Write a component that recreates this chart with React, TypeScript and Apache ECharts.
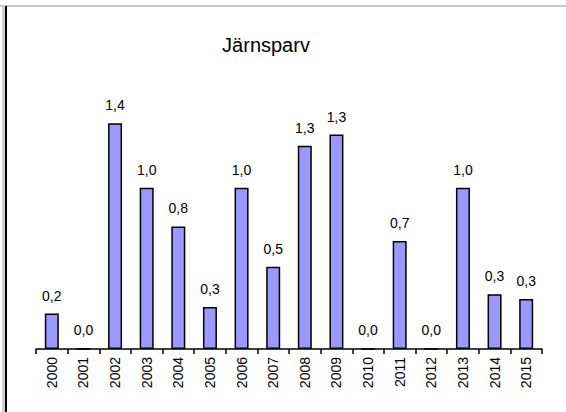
import React, { useEffect, useRef } from "react";
import * as echarts from "echarts";

const title = "Järnsparv";
const categories = ["2000", "2001", "2002", "2003", "2004", "2005", "2006", "2007", "2008", "2009", "2010", "2011", "2012", "2013", "2014", "2015"];
const values = [0.22, 0, 1.4, 1.0, 0.76, 0.26, 1.0, 0.51, 1.26, 1.33, 0, 0.67, 0, 1.0, 0.34, 0.31];

export default function App() {
  const ref = useRef<HTMLDivElement>(null);
  useEffect(() => {
    if (!ref.current) return;
    const chart = echarts.init(ref.current, null, { renderer: "svg" });
    const font = "Liberation Sans, Arial, sans-serif";
    chart.setOption({
      animation: false,
      backgroundColor: "#ffffff",
      grid: { left: 36, right: 24, top: 91, bottom: 63 },
      graphic: [
        { type: "rect", shape: { x: 0, y: 5, width: 566, height: 2 }, style: { fill: "#c8c8c8" }, silent: true },
        { type: "rect", shape: { x: 2, y: 6, width: 3, height: 406 }, style: { fill: "#d0d0d0" }, silent: true },
        { type: "rect", shape: { x: 5, y: 6, width: 2, height: 406 }, style: { fill: "#000000" }, silent: true },
        {
          type: "text",
          x: 266,
          y: 45,
          style: { text: title, fontSize: 20, fontFamily: font, fill: "#000", textAlign: "center", textVerticalAlign: "middle" },
        },
      ],
      xAxis: {
        type: "category",
        data: categories,
        axisLine: { show: true, lineStyle: { color: "#000", width: 1.5 } },
        axisTick: { show: true, alignWithLabel: false, length: 5, lineStyle: { color: "#000", width: 1.5 } },
        axisLabel: { rotate: 90, fontSize: 14, fontFamily: font, color: "#000", margin: 8, interval: 0 },
      },
      yAxis: {
        type: "value",
        min: 0,
        max: 1.6,
        show: false,
        splitLine: { show: false },
      },
      series: [
        {
          type: "bar",
          data: values,
          barWidth: 14,
          itemStyle: { color: "#9999ff", borderColor: "#000", borderWidth: 1.5 },
          label: {
            show: true,
            position: "top",
            distance: 11,
            fontSize: 14,
            fontFamily: font,
            color: "#000",
            formatter: (p: any) => Number(p.value).toFixed(1).replace(".", ","),
          },
        },
      ],
    });
    return () => chart.dispose();
  }, []);
  return <div ref={ref} style={{ width: 566, height: 412, position: "absolute", left: 0, top: 0 }} />;
}
